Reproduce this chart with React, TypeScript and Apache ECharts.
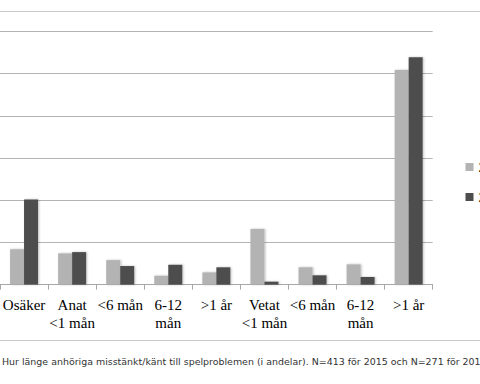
import React, { useEffect, useRef } from "react";
import * as echarts from "echarts";

const categories = [
  "Osäker",
  "Anat\n<1 mån",
  "<6 mån",
  "6-12\nmån",
  ">1 år",
  "Vetat\n<1 mån",
  "<6 mån",
  "6-12\nmån",
  ">1 år",
];
const series2015 = [0.084, 0.074, 0.058, 0.021, 0.029, 0.132, 0.041, 0.048, 0.509];
const series2017 = [0.202, 0.077, 0.044, 0.047, 0.041, 0.007, 0.022, 0.018, 0.539];
const seriesNames = ["2015", "2017"];
const caption =
  "Hur länge anhöriga misstänkt/känt till spelproblemen (i andelar). N=413 för 2015 och N=271 för 2017";

export default function App() {
  const ref = useRef<HTMLDivElement>(null);
  useEffect(() => {
    if (!ref.current) return;
    const chart = echarts.init(ref.current, null, { renderer: "svg" });
    chart.setOption({
      animation: false,
      backgroundColor: "#ffffff",
      grid: { left: -3.4, right: 47.3, top: 31.5, bottom: 99.4, containLabel: false },
      legend: {
        orient: "vertical",
        left: 460.5,
        top: 155,
        itemWidth: 8,
        itemHeight: 8,
        itemGap: 16,
        icon: "rect",
        textStyle: { fontFamily: "Liberation Sans", fontSize: 14, color: "#000" },
        data: seriesNames,
      },
      xAxis: {
        type: "category",
        data: categories,
        axisLine: { lineStyle: { color: "#a8a8a8", width: 1 } },
        axisTick: { show: true, length: 5, lineStyle: { color: "#a8a8a8" } },
        axisLabel: {
          interval: 0,
          margin: 11,
          fontFamily: "Liberation Serif",
          fontSize: 15,
          lineHeight: 18,
          color: "#000",
        },
      },
      yAxis: {
        type: "value",
        min: 0,
        max: 0.6,
        interval: 0.1,
        axisLine: { show: false },
        axisTick: { show: false },
        axisLabel: { show: false },
        splitLine: { lineStyle: { color: "#b4b4b4", width: 1 } },
      },
      series: [
        {
          name: seriesNames[0],
          type: "bar",
          data: series2015,
          barWidth: 14,
          barGap: "0%",
          itemStyle: { color: "#b3b3b3", shadowColor: "rgba(0,0,0,0.25)", shadowBlur: 2, shadowOffsetX: 1 },
        },
        {
          name: seriesNames[1],
          type: "bar",
          data: series2017,
          barWidth: 14,
          barGap: "0%",
          itemStyle: { color: "#4d4d4d", shadowColor: "rgba(0,0,0,0.25)", shadowBlur: 2, shadowOffsetX: 1 },
        },
      ],
      graphic: [
        {
          type: "rect",
          silent: true,
          shape: { x: -2, y: 11.5, width: 484, height: 329 },
          style: { fill: "none", stroke: "#c8c8c8", lineWidth: 1 },
        },
        {
          type: "text",
          x: 2,
          y: 361,
          style: {
            text: caption,
            fontFamily: "DejaVu Sans",
            fontSize: 9.45,
            fill: "#333",
            verticalAlign: "middle",
          },
        },
      ],
    });
    return () => chart.dispose();
  }, []);
  return (
    <div
      ref={ref}
      style={{ position: "absolute", left: 0, top: 0, width: 480, height: 384 }}
    />
  );
}
